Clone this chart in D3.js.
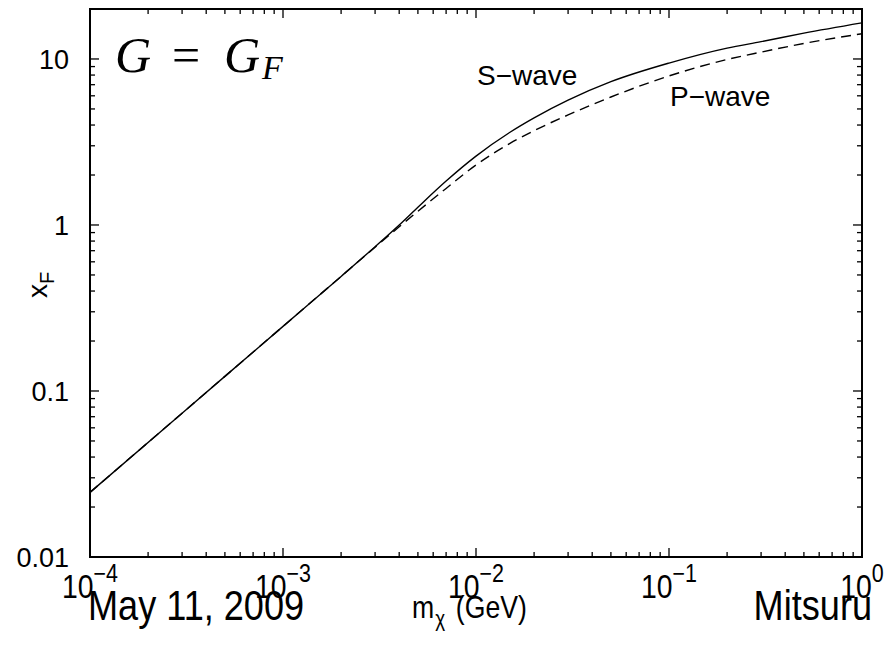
<!DOCTYPE html>
<html>
<head>
<meta charset="utf-8">
<script src="https://cdn.jsdelivr.net/npm/d3@7"></script>
<style>
  body { margin: 0; background: #fff; }
  svg { display: block; }
</style>
</head>
<body>
<script>
// x_F versus dark matter mass, log-log plot

var w = 884;
var h = 649;
var plotLeft = 90, plotTop = 9, plotRight = 862, plotBottom = 557;
var squeeze = 0.86;   // the lower texts are set in a narrow face

// masses (GeV) where the curves are read
var mass = [1e-4, 3e-4, 1e-3, 2e-3, 3e-3, 4e-3, 5e-3, 7e-3, 1e-2, 1.5e-2, 2e-2,
            3e-2, 5e-2, 0.1, 0.2, 0.3, 0.5, 1];
var sWave = [0.0245, 0.0735, 0.245, 0.49, 0.74, 1.0, 1.28, 1.84, 2.6, 3.62, 4.42,
             5.65, 7.3, 9.45, 11.63, 12.71, 14.3, 16.5];
var pWave = [0.0245, 0.0735, 0.245, 0.49, 0.735, 0.975, 1.21, 1.66, 2.3, 3.1, 3.7,
             4.6, 5.9, 7.9, 9.93, 11.0, 12.4, 14.2];

var xTickExp = [-4, -3, -2, -1, 0];
var yTickVals = [0.01, 0.1, 1, 10];
var yTickLabels = ["0.01", "0.1", "1", "10"];

var xScale = d3.scaleLog().domain([1e-4, 1]).range([plotLeft, plotRight]);
var yScale = d3.scaleLog().domain([0.01, 20]).range([plotBottom, plotTop]);

var svg = d3.select("body")
  .append("svg")
  .attr("width", w)
  .attr("height", h)
  .attr("font-family", "Liberation Sans, Arial, sans-serif");

// curves
var line = d3.line()
  .x(function(d) { return xScale(d[0]); })
  .y(function(d) { return yScale(d[1]); })
  .curve(d3.curveMonotoneX);

svg.append("path")
  .datum(d3.zip(mass, sWave))
  .attr("d", line)
  .attr("fill", "none")
  .attr("stroke", "#000")
  .attr("stroke-width", 1.4);

svg.append("path")
  .datum(d3.zip(mass, pWave))
  .attr("d", line)
  .attr("fill", "none")
  .attr("stroke", "#000")
  .attr("stroke-width", 1.4)
  .attr("stroke-dasharray", "10,6");

// ticks, inward on all four sides
var ticks = svg.append("g").attr("stroke", "#000").attr("stroke-width", 1.3);

function isMajor(v) {
  return Math.abs(Math.log10(v) - Math.round(Math.log10(v))) < 1e-9;
}

xScale.ticks().forEach(function(v) {
  var len = isMajor(v) ? 9 : 5;
  var x = xScale(v);
  ticks.append("line").attr("x1", x).attr("x2", x).attr("y1", plotBottom).attr("y2", plotBottom - len);
  ticks.append("line").attr("x1", x).attr("x2", x).attr("y1", plotTop).attr("y2", plotTop + len);
});

yScale.ticks().forEach(function(v) {
  if (v > 20) return;
  var len = isMajor(v) ? 9 : 5;
  var y = yScale(v);
  ticks.append("line").attr("x1", plotLeft).attr("x2", plotLeft + len).attr("y1", y).attr("y2", y);
  ticks.append("line").attr("x1", plotRight).attr("x2", plotRight - len).attr("y1", y).attr("y2", y);
});

// frame
svg.append("rect")
  .attr("x", plotLeft)
  .attr("y", plotTop)
  .attr("width", plotRight - plotLeft)
  .attr("height", plotBottom - plotTop)
  .attr("fill", "none")
  .attr("stroke", "#000")
  .attr("stroke-width", 2);

// y tick labels
svg.selectAll(".ylab")
  .data(yTickVals)
  .enter()
  .append("text")
  .attr("class", "ylab")
  .attr("x", 69)
  .attr("y", function(d) { return yScale(d) + 10; })
  .attr("text-anchor", "end")
  .attr("font-size", "27px")
  .text(function(d, i) { return yTickLabels[i]; });

// x tick labels 10^n, centred as a whole on the tick
var xl = svg.selectAll(".xlab")
  .data(xTickExp)
  .enter()
  .append("g")
  .attr("class", "xlab")
  .attr("transform", function(d) {
    return "translate(" + xScale(Math.pow(10, d)) + ",598) scale(" + squeeze + ",1)";
  })
  .append("text")
  .attr("text-anchor", "middle")
  .attr("font-size", "33px");

xl.append("tspan").text("10");
xl.append("tspan")
  .attr("dy", -16)
  .attr("font-size", "25px")
  .text(function(d) { return d === 0 ? "0" : "\u2212" + Math.abs(d); });

// axis titles
var xt = svg.append("g").attr("transform", "translate(412,618) scale(" + squeeze + ",1)");
xt.append("text")
  .attr("font-size", "31px")
  .text("m");
xt.append("text")
  .attr("x", 27)
  .attr("y", 8)
  .attr("font-size", "22px")
  .text("\u03c7");
xt.append("text")
  .attr("x", 51)
  .attr("font-size", "31px")
  .text("(GeV)");

var yt = svg.append("text")
  .attr("transform", "translate(47,298) rotate(-90)")
  .attr("font-size", "28px");
yt.append("tspan").text("x");
yt.append("tspan").attr("dy", 7).attr("font-size", "20px").text("F");

// footer texts
svg.append("g")
  .attr("transform", "translate(88,620) scale(" + squeeze + ",1)")
  .append("text")
  .attr("font-size", "42px")
  .text("May 11, 2009");

svg.append("g")
  .attr("transform", "translate(872,620) scale(" + squeeze + ",1)")
  .append("text")
  .attr("text-anchor", "end")
  .attr("font-size", "42px")
  .text("Mitsuru");

// curve labels
svg.append("text")
  .attr("x", 477)
  .attr("y", 85)
  .attr("font-size", "28px")
  .text("S\u2212wave");

svg.append("text")
  .attr("x", 670)
  .attr("y", 106)
  .attr("font-size", "28px")
  .text("P\u2212wave");

// title G = G_F
var title = svg.append("text")
  .attr("y", 72)
  .attr("font-family", "Liberation Serif, serif")
  .attr("font-size", "50px");
title.append("tspan").attr("x", 115).attr("font-style", "italic").text("G");
title.append("tspan").attr("x", 172).text("=");
title.append("tspan").attr("x", 224).attr("font-style", "italic").text("G");
title.append("tspan").attr("x", 262).attr("dy", 7).attr("font-size", "34px")
  .attr("font-style", "italic").text("F");
</script>
</body>
</html>
